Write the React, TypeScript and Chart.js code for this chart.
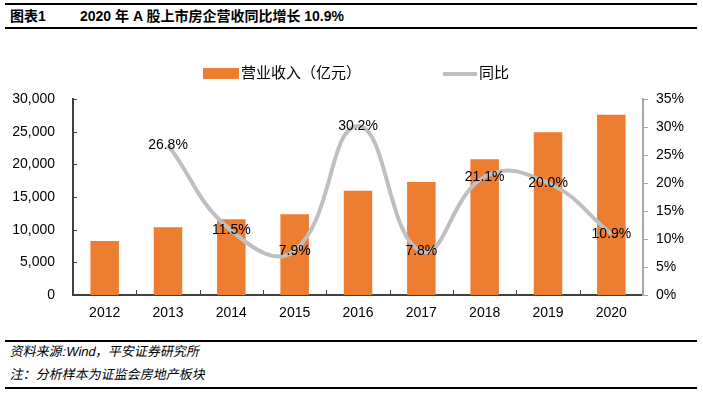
import React, { useEffect, useRef } from "react";
import { Chart, registerables } from "chart.js";

Chart.register(...registerables);

const categories = ["2012", "2013", "2014", "2015", "2016", "2017", "2018", "2019", "2020"];
const revenue = [8270, 10370, 11590, 12360, 15970, 17300, 20780, 24900, 27600];
const yoyGrowth: (number | null)[] = [null, 26.8, 11.5, 7.9, 30.2, 7.8, 21.1, 20.0, 10.9];
const seriesNames = ["营业收入（亿元）", "同比"];
const titleLabel = "图表1";
const titleText = "2020 年 A 股上市房企营收同比增长 10.9%";
const sourceNote = "资料来源:Wind，平安证券研究所";
const sampleNote = "注：分析样本为证监会房地产板块";

const FONT = '"Liberation Sans", Arial, "Noto Sans CJK SC", sans-serif';
const BAR_COLOR = "#ED7D31";
const LINE_COLOR = "#BFBFBF";

const customPlugin = {
  id: "custom",
  afterDatasetsDraw(chart: any) {
    const ctx = chart.ctx;
    const { chartArea } = chart;
    const x = chart.scales.x;
    const y = chart.scales.y;
    const y1 = chart.scales.y1;
    ctx.save();
    // tick marks
    ctx.lineWidth = 1;
    ctx.strokeStyle = "#404040";
    y.ticks.forEach((t: any) => {
      const py = Math.round(y.getPixelForValue(t.value)) + 0.5;
      ctx.beginPath();
      ctx.moveTo(chartArea.left, py);
      ctx.lineTo(chartArea.left + 4, py);
      ctx.stroke();
    });
    ctx.strokeStyle = "#A6A6A6";
    y1.ticks.forEach((t: any) => {
      const py = Math.round(y1.getPixelForValue(t.value)) + 0.5;
      ctx.beginPath();
      ctx.moveTo(chartArea.right, py);
      ctx.lineTo(chartArea.right + 5, py);
      ctx.stroke();
    });
    ctx.strokeStyle = "#404040";
    for (let i = 1; i < categories.length; i++) {
      const px = Math.round((x.getPixelForValue(i - 1) + x.getPixelForValue(i)) / 2) + 0.5;
      ctx.beginPath();
      ctx.moveTo(px, chartArea.bottom);
      ctx.lineTo(px, chartArea.bottom - 5);
      ctx.stroke();
    }
    // data labels on line
    const meta = chart.getDatasetMeta(1);
    ctx.font = `14px ${FONT}`;
    ctx.fillStyle = "#000";
    ctx.textAlign = "center";
    ctx.textBaseline = "middle";
    meta.data.forEach((pt: any, i: number) => {
      const v = yoyGrowth[i];
      if (v === null || v === undefined) return;
      ctx.fillText(v.toFixed(1) + "%", pt.x, pt.y);
    });
    // legend
    const ly = 44;
    ctx.fillStyle = BAR_COLOR;
    ctx.fillRect(203, ly - 6, 36, 11);
    ctx.fillStyle = "#000";
    ctx.textAlign = "left";
    ctx.font = `15px ${FONT}`;
    ctx.fillText(seriesNames[0], 241, ly);
    ctx.strokeStyle = LINE_COLOR;
    ctx.lineWidth = 4;
    ctx.beginPath();
    ctx.moveTo(443, ly);
    ctx.lineTo(477, ly);
    ctx.stroke();
    ctx.fillText(seriesNames[1], 479, ly);
    ctx.restore();
  },
};

export default function App() {
  const ref = useRef<HTMLCanvasElement>(null);
  useEffect(() => {
    if (!ref.current) return;
    Chart.defaults.font.family = FONT;
    const chart = new Chart(ref.current, {
      type: "bar",
      data: {
        labels: categories,
        datasets: [
          {
            type: "bar",
            label: seriesNames[0],
            data: revenue,
            backgroundColor: BAR_COLOR,
            barPercentage: 0.45,
            categoryPercentage: 1,
            yAxisID: "y",
            order: 2,
          },
          {
            type: "line",
            label: seriesNames[1],
            data: yoyGrowth,
            borderColor: LINE_COLOR,
            borderWidth: 4,
            pointRadius: 0,
            tension: 0.45,
            fill: false,
            yAxisID: "y1",
            order: 1,
          } as any,
        ],
      },
      options: {
        responsive: false,
        animation: false,
        devicePixelRatio: 1,
        layout: { padding: { top: 69, left: 0, right: 0, bottom: 0 } },
        plugins: { legend: { display: false }, tooltip: { enabled: false } },
        scales: {
          x: {
            grid: { display: false, drawTicks: false },
            border: { display: true, color: "#404040", width: 2 },
            ticks: { color: "#000", font: { size: 14 }, padding: 10, maxRotation: 0 },
            afterFit: (s: any) => {
              s.height = 35;
            },
          },
          y: {
            position: "left",
            min: 0,
            max: 30000,
            grid: { display: false, drawTicks: false },
            border: { display: true, color: "#404040", width: 2 },
            ticks: {
              stepSize: 5000,
              color: "#000",
              font: { size: 14 },
              padding: 18,
              callback: (v: any) => Number(v).toLocaleString("en-US"),
            },
            afterFit: (s: any) => {
              s.width = 73;
            },
          },
          y1: {
            position: "right",
            min: 0,
            max: 35,
            grid: { display: false, drawTicks: false },
            border: { display: true, color: "#A6A6A6", width: 2 },
            ticks: {
              stepSize: 5,
              color: "#000",
              font: { size: 14 },
              padding: 13,
              callback: (v: any) => v + "%",
            },
            afterFit: (s: any) => {
              s.width = 60;
            },
          },
        },
      },
      plugins: [customPlugin],
    });
    return () => chart.destroy();
  }, []);

  const lineStyle = (top: number, h: number): React.CSSProperties => ({
    position: "absolute",
    left: 5,
    width: 692,
    top,
    height: h,
    background: "#000",
  });

  const footStyle = (top: number): React.CSSProperties => ({
    position: "absolute",
    left: 9,
    top,
    height: 16,
    lineHeight: "16px",
    fontSize: 13,
    whiteSpace: "nowrap",
    transform: "skewX(-12deg)",
    transformOrigin: "left bottom",
  });

  return (
    <div
      style={{
        position: "fixed",
        left: 0,
        top: 0,
        width: 703,
        height: 395,
        background: "#fff",
        fontFamily: FONT,
        color: "#000",
      }}
    >
      <div style={lineStyle(3, 2)} />
      <div
        style={{
          position: "absolute",
          left: 10,
          top: 8,
          height: 17,
          lineHeight: "17px",
          fontSize: 14,
          fontWeight: "bold",
          whiteSpace: "nowrap",
        }}
      >
        {titleLabel}
      </div>
      <div
        style={{
          position: "absolute",
          left: 80,
          top: 8,
          height: 17,
          lineHeight: "17px",
          fontSize: 14,
          fontWeight: "bold",
          whiteSpace: "nowrap",
        }}
      >
        {titleText}
      </div>
      <div style={lineStyle(27, 2)} />
      <canvas
        ref={ref}
        width={703}
        height={300}
        style={{ position: "absolute", left: 0, top: 30, width: 703, height: 300 }}
      />
      <div style={lineStyle(340, 2)} />
      <div style={footStyle(344)}>{sourceNote}</div>
      <div style={footStyle(367)}>{sampleNote}</div>
      <div style={lineStyle(387, 2)} />
    </div>
  );
}
